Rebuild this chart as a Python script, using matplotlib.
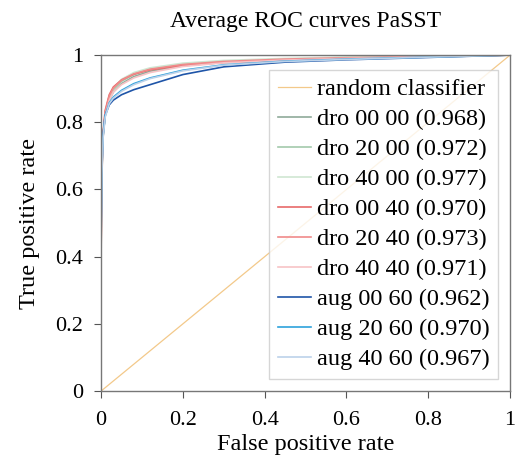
import matplotlib
matplotlib.use("Agg")
import matplotlib.pyplot as plt

plt.rcParams['font.family'] = ['Liberation Serif', 'DejaVu Serif']

# shared FPR grid, first two points make the vertical start
fpr = [0, 0, 0.002, 0.005, 0.01, 0.02, 0.03, 0.05, 0.08, 0.12, 0.2, 0.3, 0.45, 0.6, 0.8, 1.0]

labels = ["dro 00 00 (0.968)", "dro 20 00 (0.972)", "dro 40 00 (0.977)",
          "dro 00 40 (0.970)", "dro 20 40 (0.973)", "dro 40 40 (0.971)",
          "aug 00 60 (0.962)", "aug 20 60 (0.970)", "aug 40 60 (0.967)"]
colors = ["#8faa9a", "#a3c9ac", "#cfe6d2",
          "#e86a6a", "#f08a8a", "#f7c3c6",
          "#1f55a8", "#2ea2dc", "#bcd2ea"]

tpr = [
    [0, 0.45, 0.66, 0.76, 0.82, 0.866, 0.89, 0.915, 0.936, 0.952, 0.968, 0.978, 0.986, 0.991, 0.996, 1.0],
    [0, 0.42, 0.65, 0.76, 0.825, 0.872, 0.897, 0.922, 0.942, 0.958, 0.972, 0.981, 0.988, 0.993, 0.997, 1.0],
    [0, 0.40, 0.64, 0.76, 0.83, 0.878, 0.902, 0.928, 0.948, 0.962, 0.976, 0.984, 0.99, 0.994, 0.997, 1.0],
    [0, 0.43, 0.66, 0.77, 0.835, 0.882, 0.905, 0.926, 0.943, 0.956, 0.969, 0.978, 0.985, 0.99, 0.995, 1.0],
    [0, 0.41, 0.65, 0.765, 0.83, 0.878, 0.902, 0.925, 0.944, 0.958, 0.972, 0.981, 0.988, 0.992, 0.996, 1.0],
    [0, 0.40, 0.64, 0.755, 0.82, 0.865, 0.89, 0.912, 0.932, 0.948, 0.966, 0.977, 0.985, 0.99, 0.995, 1.0],
    [0, 0.48, 0.67, 0.765, 0.82, 0.852, 0.866, 0.882, 0.897, 0.912, 0.942, 0.965, 0.979, 0.986, 0.993, 1.0],
    [0, 0.46, 0.66, 0.76, 0.82, 0.858, 0.875, 0.895, 0.915, 0.932, 0.955, 0.971, 0.982, 0.988, 0.994, 1.0],
    [0, 0.44, 0.65, 0.755, 0.815, 0.855, 0.872, 0.892, 0.912, 0.93, 0.953, 0.97, 0.981, 0.987, 0.994, 1.0],
]
ticks = [0, 0.2, 0.4, 0.6, 0.8, 1]
tick_labels = ["0", "0.2", "0.4", "0.6", "0.8", "1"]

fig = plt.figure(figsize=(5.21, 4.59), dpi=100)
ax = fig.add_axes([0.194, 0.148, 0.785, 0.732])

ax.plot([0, 1], [0, 1], color="#f3c98a", lw=0.9, label="random classifier")
for lab, col, t in zip(labels, colors, tpr):
    ax.plot(fpr, t, color=col, lw=1.2, label=lab)

ax.set_xlim(0, 1)
ax.set_ylim(0, 1)
ax.set_xticks(ticks)
ax.set_xticklabels(tick_labels)
ax.set_yticks(ticks)
ax.set_yticklabels(tick_labels)
ax.tick_params(direction="out", length=5, width=0.8, color="#555555", labelsize=16)
ax.tick_params(axis="x", pad=9)
ax.tick_params(axis="y", pad=8)
for s in ax.spines.values():
    s.set_color("#777777")
    s.set_linewidth(1.0)

ax.set_title("Average ROC curves PaSST", fontsize=17, pad=20)
ax.set_xlabel("False positive rate", fontsize=17.5, labelpad=3)
ax.set_ylabel("True positive rate", fontsize=17.5, labelpad=11)

leg = ax.legend(loc="lower right", fontsize=17.5, frameon=True, fancybox=False,
                handlelength=1.36, handletextpad=0.25, labelspacing=0.33,
                borderaxespad=0.5, borderpad=0.35)
leg.get_frame().set_edgecolor("#cccccc")
leg.get_frame().set_linewidth(1.0)

fig.savefig("out.png", dpi=100)
